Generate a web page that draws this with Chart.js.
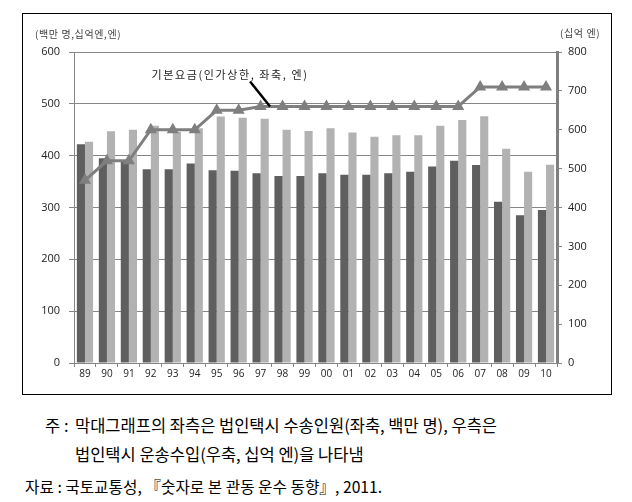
<!DOCTYPE html>
<html>
<head>
<meta charset="utf-8">
<script src="https://cdn.jsdelivr.net/npm/chart.js@4"></script>
<style>
  body { margin: 0; background: #fff; width: 632px; height: 502px; position: relative; overflow: hidden;
         font-family: "Noto Sans CJK KR", sans-serif; }
  #box { position: absolute; left: 22px; top: 13px; width: 588px; height: 380px; border: 1px solid #000; }
  #wrap { position: absolute; left: 0; top: 0; width: 588px; height: 380px; }
  .ttl { position: absolute; font-size: 10px; color: #444; letter-spacing: 0.6px; white-space: nowrap; line-height: 12px; }
  .note { position: absolute; font-size: 16.5px; color: #000; white-space: nowrap; line-height: 22px; }
</style>
</head>
<body>
<div id="box">
  <div id="wrap"><canvas id="taxiChart"></canvas></div>
</div>
<div class="ttl" style="left:35px;top:28px">(백만 명,십억엔,엔)</div>
<div class="ttl" style="left:560px;top:27px">(십억 엔)</div>
<div class="note" style="left:45px;top:414px">주 :</div>
<div class="note" style="left:75px;top:414px">막대그래프의 좌측은 법인택시 수송인원(좌축, 백만 명), 우측은</div>
<div class="note" style="left:75px;top:443px">법인택시 운송수입(우축, 십억 엔)을 나타냄</div>
<div class="note" style="left:25px;top:476px;font-size:15.7px">자료 : 국토교통성, 『숫자로 본 관동 운수 동향』, 2011.</div>

<script>
// 연도 (1989 ~ 2010)
const years = ['89', '90', '91', '92', '93', '94', '95', '96', '97', '98', '99',
               '00', '01', '02', '03', '04', '05', '06', '07', '08', '09', '10'];
// 법인택시 수송인원 (백만 명, 좌축)
const passengers = [422, 395, 391, 374, 374, 385, 372, 371, 366, 361, 361,
                    366, 363, 363, 366, 369, 379, 390, 382, 311, 285, 295];
// 법인택시 운송수입 (십억 엔, 우축)
const revenue = [569, 596, 600, 610, 595, 604, 634, 631, 628, 600, 597,
                 604, 593, 582, 586, 586, 610, 625, 635, 551, 492, 510];
// 기본요금 (인가상한, 엔)
const fares = [470, 520, 520, 600, 600, 600, 650, 650, 660, 660, 660,
               660, 660, 660, 660, 660, 660, 660, 710, 710, 710, 710];
const leftTicks = [0, 600, 100];   // min, max, step
const rightTicks = [0, 800, 100];
const noteText = '기본요금(인가상한, 좌축, 엔)';

const fareNote = {
  id: 'fareNote',
  afterDatasetsDraw(chart) {
    const { ctx, scales: { x, y1 } } = chart;
    // 선의 97~98 구간을 가리킨다
    const ex = x.getPixelForValue(8.43);
    const ey = y1.getPixelForValue(fares[8]);
    ctx.save();
    ctx.strokeStyle = '#000';
    ctx.lineWidth = 2.5;
    ctx.beginPath();
    ctx.moveTo(ex - 20, ey - 25);
    ctx.lineTo(ex, ey);
    ctx.stroke();
    ctx.fillStyle = '#222';
    ctx.font = '11px "Noto Sans CJK KR"';
    ctx.letterSpacing = '1.6px';
    ctx.textAlign = 'center';
    ctx.textBaseline = 'middle';
    ctx.fillText(noteText, ex - 40, ey - 32);
    ctx.restore();
  }
};

const grey = '#868686';

new Chart(document.getElementById('taxiChart'), {
  type: 'bar',
  data: {
    labels: years,
    datasets: [{
      label: '수송인원',
      data: passengers,
      backgroundColor: '#5f5f5f',
      yAxisID: 'y',
      order: 1,
      categoryPercentage: 0.74,
      barPercentage: 1
    }, {
      label: '운송수입',
      data: revenue,
      backgroundColor: '#b2b2b2',
      yAxisID: 'y1',
      order: 1,
      categoryPercentage: 0.74,
      barPercentage: 1
    }, {
      type: 'line',
      label: '기본요금',
      data: fares,
      yAxisID: 'y1',
      order: 0,
      borderColor: '#7f7f7f',
      backgroundColor: '#7f7f7f',
      borderWidth: 3,
      pointStyle: 'triangle',
      pointRadius: 4,
      tension: 0
    }]
  },
  options: {
    responsive: true,
    maintainAspectRatio: false,
    animation: false,
    layout: { padding: { top: 38, left: 0, right: 0, bottom: 0 } },
    plugins: {
      legend: { display: false },
      tooltip: { enabled: false }
    },
    scales: {
      x: {
        offset: true,
        grid: { display: true, drawOnChartArea: false, offset: true, color: grey, tickLength: 4 },
        border: { color: grey },
        ticks: { color: '#222', font: { family: 'Open Sans', size: 10 }, padding: 1, maxRotation: 0, autoSkip: false },
        afterFit(scale) { scale.height = 31; }
      },
      y: {
        position: 'left',
        min: leftTicks[0],
        max: leftTicks[1],
        ticks: { stepSize: leftTicks[2], color: '#222', font: { family: 'Open Sans', size: 11 }, padding: 9 },
        grid: { color: grey, tickLength: 5 },
        border: { color: grey },
        afterFit(scale) { scale.width = 51; }
      },
      y1: {
        position: 'right',
        min: rightTicks[0],
        max: rightTicks[1],
        ticks: { stepSize: rightTicks[2], color: '#222', font: { family: 'Open Sans', size: 11 }, padding: 6 },
        grid: { drawOnChartArea: false, color: grey, tickLength: 5 },
        border: { color: '#7f7f7f', width: 3 },
        afterFit(scale) { scale.width = 54; }
      }
    }
  },
  plugins: [fareNote]
});
</script>
</body>
</html>
